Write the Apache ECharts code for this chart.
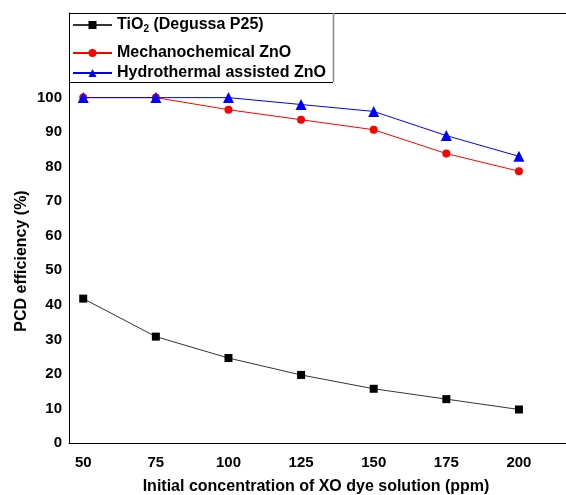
<!DOCTYPE html>
<html>
<head>
<meta charset="utf-8">
<script src="https://cdn.jsdelivr.net/npm/echarts@6/dist/echarts.min.js"></script>
<style>html,body{margin:0;padding:0;background:#fff;}#c{width:566px;height:495px;}</style>
</head>
<body>
<div id="c"></div>
<script>
var concentrations = [50, 75, 100, 125, 150, 175, 200];
var tio2 = [41.8, 30.8, 24.6, 19.7, 15.7, 12.7, 9.7];
var mechanoZnO = [100, 100, 96.5, 93.6, 90.7, 83.8, 78.7];
var hydroZnO = [100, 100, 100, 98, 96, 89, 83];
var xTicks = [50, 75, 100, 125, 150, 175, 200];
var yTicks = [0, 10, 20, 30, 40, 50, 60, 70, 80, 90, 100];
var names = ['TiO2 (Degussa P25)', 'Mechanochemical ZnO', 'Hydrothermal assisted ZnO'];
var xTitle = 'Initial concentration of XO dye solution (ppm)';
var yTitle = 'PCD efficiency (%)';

var FONT = 'Arial, "Liberation Sans", sans-serif';
function pairs(vals) { return concentrations.map(function (c, i) { return [c, vals[i]]; }); }

var chart = echarts.init(document.getElementById('c'), null, { renderer: 'canvas' });
function legendFor(name, top) {
  return {
    data: [name], left: 72, top: top, orient: 'vertical', padding: 0,
    itemWidth: 39, itemHeight: 10, itemGap: 0, selectedMode: false,
    formatter: function (n) { return n === names[0] ? 'TiO{sub|2} (Degussa P25)' : n; },
    textStyle: {
      fontFamily: FONT, fontWeight: 'bold', fontSize: 16, color: '#000',
      rich: { sub: { fontFamily: FONT, fontWeight: 'bold', fontSize: 10, color: '#000', padding: [9, 0, 0, 0] } }
    }
  };
}
var option = {
  animation: false,
  backgroundColor: '#fff',
  grid: { left: 69, top: 13, right: 0, bottom: 52, show: false },
  legend: [legendFor(names[0], 17), legendFor(names[1], 45), legendFor(names[2], 65)],
  xAxis: {
    type: 'value', min: 45.1, max: 216.2,
    axisLine: { show: true, lineStyle: { color: '#000', width: 1 } },
    axisTick: { show: false }, splitLine: { show: false },
    axisLabel: { customValues: xTicks, margin: 12, fontFamily: FONT, fontWeight: 'bold', fontSize: 15, color: '#000' }
  },
  yAxis: {
    type: 'value', min: 0, max: 124.5, interval: 10,
    axisLine: { show: true, lineStyle: { color: '#000', width: 1 } },
    axisTick: { show: false }, splitLine: { show: false },
    axisLabel: {
      margin: 7, fontFamily: FONT, fontWeight: 'bold', fontSize: 15, color: '#000',
      formatter: function (v) { return yTicks.indexOf(v) >= 0 ? String(v) : ''; }
    }
  },
  graphic: [
    { type: 'line', shape: { x1: 69, y1: 13.5, x2: 566, y2: 13.5 }, style: { stroke: '#000', lineWidth: 1 }, z: 10 },
    { type: 'line', shape: { x1: 69, y1: 82.5, x2: 333, y2: 82.5 }, style: { stroke: '#000', lineWidth: 1 }, z: 10 },
    { type: 'line', shape: { x1: 333.5, y1: 13, x2: 333.5, y2: 82 }, style: { stroke: '#888', lineWidth: 1.5 }, z: 10 },
    { type: 'text', x: 316, y: 487, style: { text: xTitle, font: 'bold 16px ' + FONT, fill: '#000', textAlign: 'center', textVerticalAlign: 'middle' } },
    { type: 'text', x: 22, y: 261, rotation: Math.PI / 2, style: { text: yTitle, font: 'bold 16px ' + FONT, fill: '#000', textAlign: 'center', textVerticalAlign: 'middle' } }
  ],
  series: [
    { name: names[0], type: 'line', data: pairs(tio2), symbol: 'rect', symbolSize: 8,
      lineStyle: { color: '#333', width: 1 }, itemStyle: { color: '#000' }, z: 2 },
    { name: names[1], type: 'line', data: pairs(mechanoZnO), symbol: 'circle', symbolSize: 8,
      lineStyle: { color: '#ff0000', width: 1 }, itemStyle: { color: '#ff0000' }, z: 3 },
    { name: names[2], type: 'line', data: pairs(hydroZnO), symbol: 'triangle', symbolSize: 11,
      lineStyle: { color: '#0000ff', width: 1 }, itemStyle: { color: '#0000ff' }, z: 4 }
  ]
};
chart.setOption(option);
</script>
</body>
</html>
